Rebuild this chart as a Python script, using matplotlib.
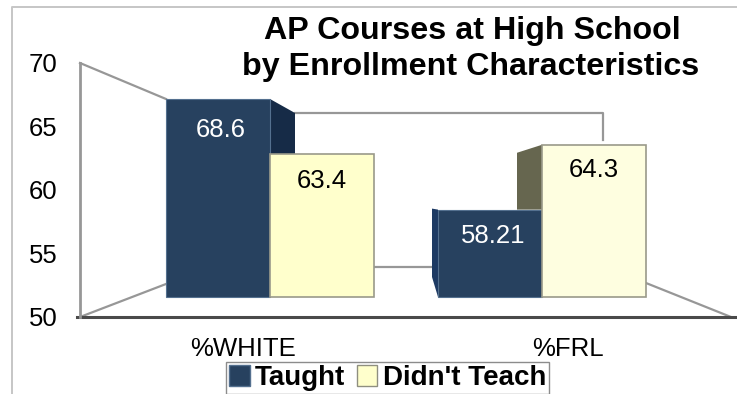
import matplotlib
matplotlib.use('Agg')
import matplotlib.pyplot as plt
from matplotlib.patches import Polygon, Patch

plt.rcParams['font.family'] = ['Liberation Sans', 'DejaVu Sans']

categorias = ['%WHITE', '%FRL']
taught = [68.6, 58.21]
didnt_teach = [63.4, 64.3]
rotulos_taught = ['68.6', '58.21']
rotulos_didnt = ['63.4', '64.3']
ticks_y = [50, 55, 60, 65, 70]

AZUL = '#27415f'
AZUL_ESCURO = '#162b47'
AMARELOS = ['#ffffcc', '#fefee0']
OLIVA = '#66664f'
CINZA = '#979797'

W, H = 737, 394
fig = plt.figure(figsize=(W / 100, H / 100), dpi=100)


def eixo_px(x0, x1, y_top, y_bot):
    return fig.add_axes([x0 / W, 1 - y_bot / H, (x1 - x0) / W, (y_bot - y_top) / H])


# moldura e paredes do grafico 3D, em pixels
fundo = fig.add_axes([0, 0, 1, 1])
fundo.set_xlim(0, W)
fundo.set_ylim(H, 0)
fundo.axis('off')
fundo.plot([12, 12, W], [H, 7, 7], color='#c6c6c6', lw=1.4)
fundo.plot([80, 166], [63, 99], color=CINZA, lw=1.6)
fundo.plot([80, 166], [317, 284], color=CINZA, lw=1.6)
fundo.plot([295, 603, 603], [113, 113, 140], color=CINZA, lw=1.6)
fundo.plot([372, 433], [267, 267], color=CINZA, lw=1.6)
fundo.plot([646, 731], [283, 317], color=CINZA, lw=1.6)
fundo.plot([77, 735], [317, 317], color='#4a4a4a', lw=2.2)

# eixo principal: parede esquerda e chao
ax = eixo_px(80, 731, 63, 317)
ax.patch.set_alpha(0)
ax.set_xlim(-0.5, 1.5)
ax.set_ylim(50, 70)
ax.set_xticks(range(len(categorias)))
ax.set_xticklabels(categorias, fontsize=19)
ax.set_yticks(ticks_y)
ax.tick_params(axis='both', length=0, labelsize=18.5)
ax.tick_params(axis='x', pad=14.5)
ax.tick_params(axis='y', pad=16)
for lado in ['top', 'right', 'bottom']:
    ax.spines[lado].set_visible(False)
ax.spines['left'].set_color(CINZA)
ax.spines['left'].set_linewidth(2)

# plano da frente das barras: 50 em y=297, 10.67 px por unidade
ax_b = eixo_px(0, W, 99, 297)
ax_b.patch.set_alpha(0)
ax_b.axis('off')
ax_b.set_ylim(50, 68.6)
largura = 104 / 272
ax_b.set_xlim(-270 / 272, (W - 270) / 272)
px_x = 1 / 272
px_y = 18.6 / 198
prof_x = 25 * px_x
prof_y = 14 * px_y

for i in range(len(categorias)):
    t, d = taught[i], didnt_teach[i]
    if i == 0:
        # face lateral direita da barra azul
        ax_b.add_patch(Polygon([(i, t), (i + prof_x, t - prof_y), (i + prof_x, d), (i, d)],
                               facecolor=AZUL_ESCURO, edgecolor='none', clip_on=False))
    else:
        # face lateral esquerda da barra amarela e da azul
        ax_b.add_patch(Polygon([(i - prof_x, d - 8 * px_y), (i, d), (i, t), (i - prof_x, t)],
                               facecolor=OLIVA, edgecolor='none', clip_on=False))
        esq = i - largura
        ax_b.add_patch(Polygon([(esq - 6 * px_x, t + 1 * px_y), (esq, t), (esq, 50),
                                (esq - 6 * px_x, 50 + 20 * px_y)],
                               facecolor='#1d3a63', edgecolor='none', clip_on=False))

base = [50, 50]
ax_b.bar([i - largura / 2 for i in range(2)], [v - 50 for v in taught], bottom=base, width=largura, color=AZUL,
         edgecolor='#54708f', linewidth=0.8, clip_on=False, zorder=3)
ax_b.bar([i + largura / 2 for i in range(2)], [v - 50 for v in didnt_teach], bottom=base, width=largura,
         color=AMARELOS, edgecolor='#9a9a8a', linewidth=1.2, clip_on=False, zorder=3)

desce_taught = [31, 26]
desce_didnt = [27, 25]
for i in range(2):
    ax_b.text(i - largura / 2 + 3 * px_x, taught[i] - desce_taught[i] * px_y, rotulos_taught[i], color='white',
              fontsize=18.5, ha='center', va='center', zorder=4)
    ax_b.text(i + largura / 2, didnt_teach[i] - desce_didnt[i] * px_y, rotulos_didnt[i], color='black',
              fontsize=18.5, ha='center', va='center', zorder=4)

fig.text(472 / W, 1 - 31 / H, 'AP Courses at High School', fontsize=23.2, fontweight='bold', ha='center', va='center')
fig.text(471 / W, 1 - 67 / H, 'by Enrollment Characteristics', fontsize=23.2, fontweight='bold', ha='center', va='center')

# legenda encostada na borda inferior
handles = [Patch(facecolor=AZUL, edgecolor='#54708f', label='Taught'),
           Patch(facecolor=AMARELOS[0], edgecolor='#8f8f80', label="Didn't Teach")]
leg = fig.legend(handles=handles, ncol=2, loc='upper left', bbox_to_anchor=(226 / W, 1 - 362 / H),
                 frameon=True, fancybox=False, edgecolor='#8c8c8c', framealpha=1,
                 prop={'weight': 'bold', 'size': 20}, columnspacing=0.4, handletextpad=0.2,
                 handlelength=0.75, handleheight=0.8, borderpad=0.1, borderaxespad=0)

fig.savefig('out.png', dpi=100)
